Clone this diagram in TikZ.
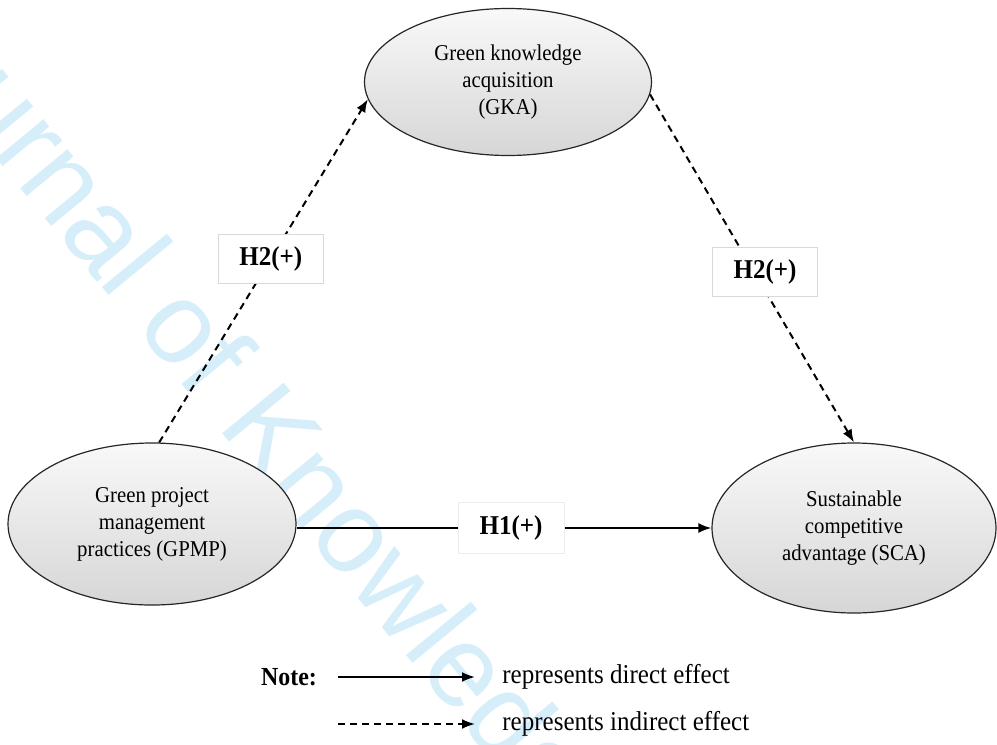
\documentclass[tikz,border=0pt]{standalone}
\usepackage{fontspec}
\setmainfont{Liberation Serif}[FakeStretch=0.92]
\newfontfamily\wmfont{Liberation Sans}
\usetikzlibrary{shapes.geometric,arrows.meta}
\definecolor{wmblue}{RGB}{214,238,250}

\begin{document}
\begin{tikzpicture}[x=0.5pt, y=-0.5pt,
  construct/.style={ellipse, draw=black!85, line width=0.6pt, top color=gray!5,
    bottom color=gray!32, inner sep=0pt, align=center,
    font=\fontsize{11.3}{13.5}\selectfont},
  hyp/.style={solid, draw=gray!30, fill=white, line width=0.4pt, minimum width=52.5pt,
    minimum height=24.5pt, inner sep=0pt, font=\bfseries\fontsize{13.6}{15}\selectfont},
  direct/.style={line width=1pt, -{Latex[length=6.5pt,width=5pt]}},
  indirect/.style={direct, dash pattern=on 3.5pt off 2.5pt},
  legend/.style={anchor=west, inner sep=0pt, font=\fontsize{13.6}{15}\selectfont}]
  \useasboundingbox (0,0) rectangle (997,745);

  % watermark
  \begin{scope}
    \clip (0,0) rectangle (997,745);
    \node[anchor=base west, inner sep=0pt, rotate=-50.5, text=wmblue,
      font=\wmfont\fontsize{58}{58}\selectfont] (mark) at (-128,8)
      {Journal of Knowledge Management};
  \end{scope}

  \node[construct, minimum width=143.5pt, minimum height=73.5pt] (gka) at (508,82)
    {Green knowledge\\acquisition\\(GKA)};
  \node[construct, minimum width=144pt, minimum height=81pt] (gpmp) at (152,524)
    {Green project\\management\\practices (GPMP)};
  \node[construct, minimum width=142pt, minimum height=85pt] (sca) at (854,528)
    {Sustainable\\competitive\\advantage (SCA)};

  \draw[indirect] (gpmp.85) -- node[hyp, pos=0.535] (h2a) {H2(+)} (gka.187);
  \draw[indirect] (gka.-5) -- node[hyp, pos=0.51, xshift=5.5pt] (h2b) {H2(+)} (sca.north);
  \draw[direct] (gpmp.east |- sca.west) -- node[hyp, draw=gray!15, minimum width=53pt,
    minimum height=25.5pt, xshift=3.5pt] (h1) {H1(+)} (sca.west);

  % legend
  \node[font=\bfseries\fontsize{13}{15}\selectfont] (note) at (289,677) {Note:};
  \coordinate (d1) at (338,677);
  \coordinate (d2) at (475,677);
  \coordinate (i1) at (338,724);
  \coordinate (i2) at (475,724);
  \draw[direct] (d1) -- (d2);
  \draw[indirect] (i1) -- (i2);
  \node[legend] (dtext) at (502,677) {represents direct effect};
  \node[legend] (itext) at (502,724) {represents indirect effect};
\end{tikzpicture}
\end{document}
